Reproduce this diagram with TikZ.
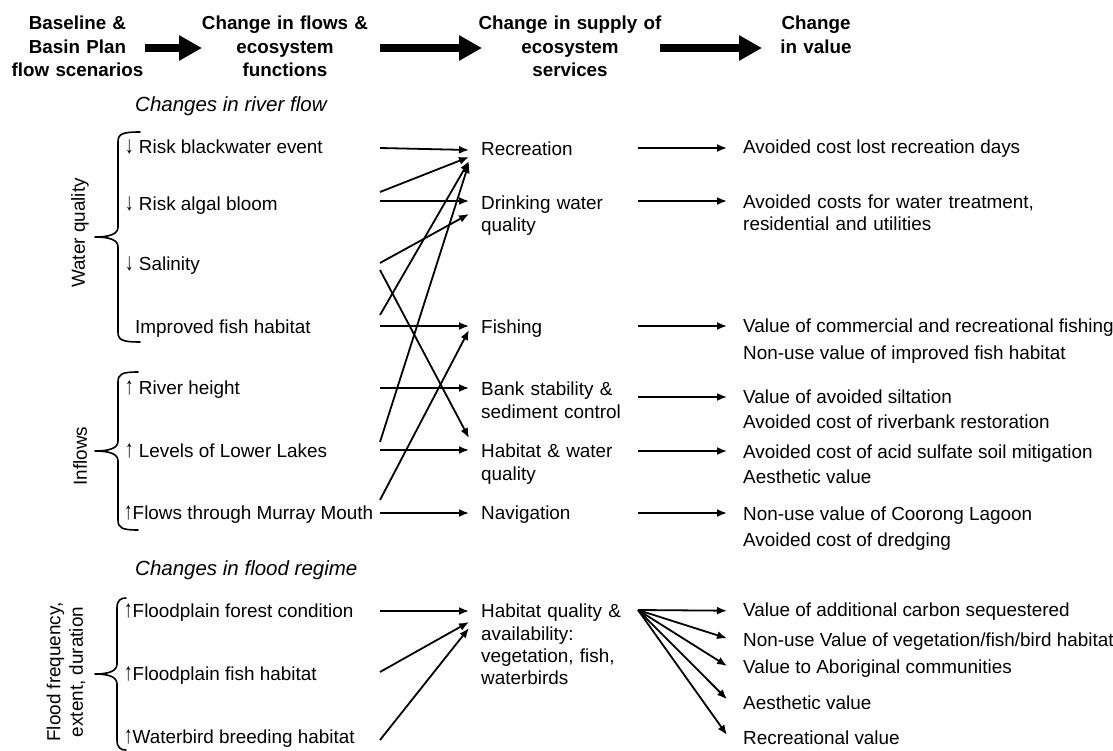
\documentclass[tikz,border=0pt]{standalone}
\usepackage{fontspec}
\usepackage{graphicx}
\setmainfont{Liberation Sans}
\usetikzlibrary{arrows.meta,calc}
\newcommand{\bodysize}{\fontsize{18.9}{22.4}\selectfont}
\newcommand{\dn}{\scalebox{0.9}[1.3]{↓}}
\newcommand{\up}{\scalebox{0.9}[1.3]{↑}}
% #1 line x, #2 top y, #3 bottom y, #4 tip x, #5 tip y, #6 hook end x
\newcommand{\curlybrace}[6]{%
  \draw[brace] (#6,#2) .. controls ({#1+4},#2) and (#1,{#2+2}) .. (#1,{#2+10})
    -- (#1,{#5-10}) .. controls (#1,{#5-3}) and ({#1-8},#5) .. (#4,#5)
    .. controls ({#1-8},#5) and (#1,{#5+3}) .. (#1,{#5+10})
    -- (#1,{#3-10}) .. controls (#1,{#3-2}) and ({#1+4},#3) .. (#6,#3);}
\newcommand{\link}[6]{\draw[conn] ($(#1.base west -| #5)+(0,#2)$) -- ($(#3.base west -| #6)+(0,#4)$);}
\begin{document}
\begin{tikzpicture}[x=1pt,y=-1pt,
  txt/.style={inner sep=0pt, font=\bodysize, anchor=base west},
  midtxt/.style={txt, text width=160pt, align=left},
  hdr/.style={inner sep=0pt, font=\bfseries\fontsize{18.8}{23.3}\selectfont, align=center, anchor=base},
  sect/.style={inner sep=0pt, font=\itshape\fontsize{20.5}{24}\selectfont, anchor=base west},
  grp/.style={inner sep=0pt, font=\bodysize, rotate=90, align=center},
  conn/.style={line width=1.8pt, -{Latex[length=10pt,width=8pt]}},
  bigarrow/.style={line width=8.5pt, -{Triangle[length=23pt,width=24pt]}},
  brace/.style={line width=1.6pt, line cap=round, line join=round}
]
\fill[white] (0,0) rectangle (1113,751);
\useasboundingbox (0,0) rectangle (1113,751);

% ---- header ----
\node[hdr, text width=140pt] (h1) at (77.5,30) {Baseline \&\\Basin Plan\\flow scenarios};
\node[hdr, text width=170pt] (h2) at (285,30) {Change in flows \&\\ecosystem\\functions};
\node[hdr, text width=190pt] (h3) at (570,30) {Change in supply of\\ecosystem\\services};
\node[hdr, text width=80pt] (h4) at (816,30) {Change\\in value};
\coordinate (a1s) at (145,48); \coordinate (a1e) at (202,48);
\coordinate (a2s) at (380,48); \coordinate (a2e) at (482,48);
\coordinate (a3s) at (660,48); \coordinate (a3e) at (762,48);
\draw[bigarrow] (a1s) -- (a1e);
\draw[bigarrow] (a2s) -- (a2e);
\draw[bigarrow] (a3s) -- (a3e);

% ---- section titles ----
\node[sect] (secriver) at (135,112) {Changes in river flow};
\node[sect] (secflood) at (135,575) {Changes in flood regime};

% ---- group labels and braces ----
\node[grp] (wq) at (80,233) {Water quality};
\node[grp] (inf) at (80,456) {Inflows};
\node[grp] (ffd) at (66,672) {Flood frequency,\\extent, duration};
\curlybrace{118}{132}{342}{95}{237}{140}
\curlybrace{118}{372}{530}{95}{451}{138}
\curlybrace{117}{598}{750}{95}{674}{126}

% ---- left column ----
\node[txt] (bw)   at (125,153.6) {\dn{} Risk blackwater event};
\node[txt] (ab)   at (125,210.6) {\dn{} Risk algal bloom};
\node[txt] (sal)  at (125,270.6) {\dn{} Salinity};
\node[txt] (fish) at (135,333.6) {Improved fish habitat};
\node[txt] (rh)   at (125,394.6) {\up{} River height};
\node[txt] (ll)   at (125,457.6) {\up{} Levels of Lower Lakes};
\node[txt] (mm)   at (124,519.6) {\up{}Flows through Murray Mouth};
\node[txt] (ff)   at (124,617.6) {\up{}Floodplain forest condition};
\node[txt] (fh)   at (124,680.6) {\up{}Floodplain fish habitat};
\node[txt] (wb)   at (124,743.6) {\up{}Waterbird breeding habitat};

% ---- middle column ----
\node[midtxt] (rec)  at (481,155.6) {Recreation};
\node[midtxt] (dw)   at (481,209.6) {Drinking water\\quality};
\node[midtxt] (fis)  at (481,333.6) {Fishing};
\node[midtxt] (bank) at (481,395.6) {Bank stability \&\\sediment control};
\node[midtxt] (hw)   at (481,457.6) {Habitat \& water\\quality};
\node[midtxt] (nav)  at (481,519.6) {Navigation};
\node[midtxt] (hq)   at (481,617.6) {Habitat quality \&\\availability:\\vegetation, fish,\\waterbirds};

% ---- right column ----
\node[txt] (arc)  at (743,153.6) {Avoided cost lost recreation days};
\node[txt, text width=320pt, align=left] (act) at (743,208.6) {Avoided costs for water treatment,\\residential and utilities};
\node[txt] (vcf)  at (743,332.6) {Value of commercial and recreational fishing};
\node[txt] (nuf)  at (743,359.6) {Non-use value of improved fish habitat};
\node[txt] (vas)  at (743,403.6) {Value of avoided siltation};
\node[txt] (acr)  at (743,428.6) {Avoided cost of riverbank restoration};
\node[txt] (aca)  at (743,458.6) {Avoided cost of acid sulfate soil mitigation};
\node[txt] (aes)  at (743,483.6) {Aesthetic value};
\node[txt] (nuc)  at (743,520.6) {Non-use value of Coorong Lagoon};
\node[txt] (acd)  at (743,546.6) {Avoided cost of dredging};
\node[txt] (vac)  at (743,616.6) {Value of additional carbon sequestered};
\node[txt] (nuv)  at (743,646.6) {Non-use Value of vegetation/fish/bird habitat};
\node[txt] (vab)  at (743,673.9) {Value to Aboriginal communities};
\node[txt] (aes2) at (743,709.3) {Aesthetic value};
\node[txt] (rcv)  at (743,744.3) {Recreational value};

% ---- column x positions for connector ends ----
\coordinate (Lx) at (380,0);
\coordinate (Mx) at (469,0);
\coordinate (Sx) at (638,0);
\coordinate (Vx) at (727,0);

% ---- flows -> services ----
\link{bw}{-5.6}{rec}{-5.6}{Lx}{Mx}
\link{ab}{-18.6}{rec}{1.4}{Lx}{Mx}
\link{ab}{-9.6}{dw}{-8.6}{Lx}{Mx}
\link{sal}{-7.6}{dw}{4.4}{Lx}{Mx}
\link{sal}{-0.6}{hw}{-19.6}{Lx}{Mx}
\link{fish}{-18.6}{rec}{5.4}{Lx}{Mx}
\link{fish}{-7.6}{fis}{-7.6}{Lx}{Mx}
\link{rh}{-6.6}{bank}{-7.6}{Lx}{Mx}
\link{ll}{-15.6}{rec}{7.4}{Lx}{Mx}
\link{ll}{-7.6}{hw}{-7.6}{Lx}{Mx}
\link{mm}{-19.6}{fis}{-3.6}{Lx}{Mx}
\link{mm}{-6.6}{nav}{-6.6}{Lx}{Mx}
\link{ff}{-6.6}{hq}{-6.6}{Lx}{Mx}
\link{fh}{-8.6}{hq}{4.4}{Lx}{Mx}
\link{wb}{-3.6}{hq}{10.4}{Lx}{Mx}

% ---- services -> values ----
\link{rec}{-7.6}{arc}{-5.6}{Sx}{Vx}
\link{dw}{-8.6}{act}{-7.6}{Sx}{Vx}
\link{fis}{-7.6}{vcf}{-6.6}{Sx}{Vx}
\link{bank}{1.4}{vas}{-6.6}{Sx}{Vx}
\link{hw}{-6.6}{aca}{-7.6}{Sx}{Vx}
\link{nav}{-6.6}{nuc}{-7.6}{Sx}{Vx}
\link{hq}{-7.6}{vac}{-5.9}{Sx}{Vx}
\link{hq}{-7.6}{nuv}{-8.3}{Sx}{Vx}
\link{hq}{-7.6}{vab}{-7.9}{Sx}{Vx}
\link{hq}{-7.6}{aes2}{-10}{Sx}{Vx}
\link{hq}{-7.6}{rcv}{-9.3}{Sx}{Vx}
\end{tikzpicture}
\end{document}
